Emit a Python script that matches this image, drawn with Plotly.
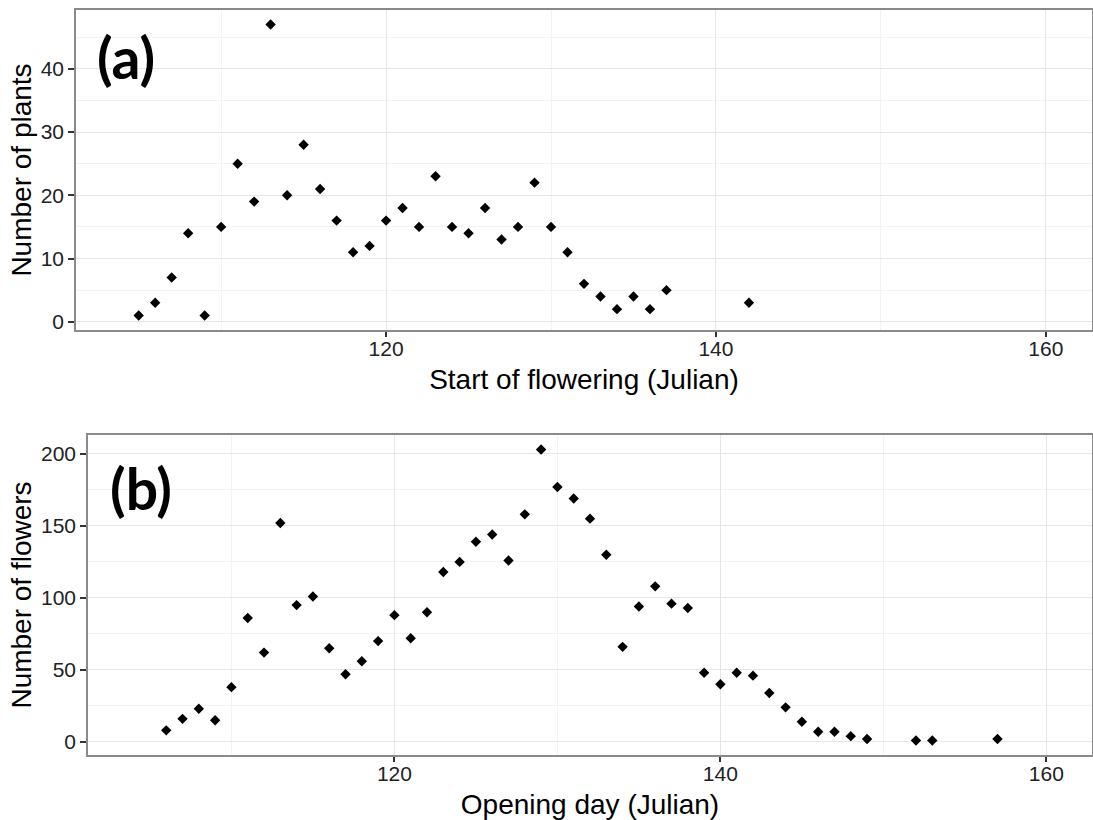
import plotly.graph_objects as go

# Panel (a): start of flowering
start_day = [105, 106, 107, 108, 109, 110, 111, 112, 113, 114, 115, 116, 117, 118,
             119, 120, 121, 122, 123, 124, 125, 126, 127, 128, 129, 130, 131, 132,
             133, 134, 135, 136, 137, 142]
n_plants = [1, 3, 7, 14, 1, 15, 25, 19, 47, 20, 28, 21, 16, 11,
            12, 16, 18, 15, 23, 15, 14, 18, 13, 15, 22, 15, 11, 6,
            4, 2, 4, 2, 5, 3]

# Panel (b): opening day
open_day = [106, 107, 108, 109, 110, 111, 112, 113, 114, 115, 116, 117, 118, 119,
            120, 121, 122, 123, 124, 125, 126, 127, 128, 129, 130, 131, 132, 133,
            134, 135, 136, 137, 138, 139, 140, 141, 142, 143, 144, 145, 146, 147,
            148, 149, 152, 153, 157]
n_flowers = [8, 16, 23, 15, 38, 86, 62, 152, 95, 101, 65, 47, 56, 70,
             88, 72, 90, 118, 125, 139, 144, 126, 158, 203, 177, 169, 155, 130,
             66, 94, 108, 96, 93, 48, 40, 48, 46, 34, 24, 14, 7, 7,
             4, 2, 1, 1, 2]

x_ticks = [120, 140, 160]
y_ticks_a = [0, 10, 20, 30, 40]
y_ticks_b = [0, 50, 100, 150, 200]

W, H = 1093, 820
FONT = "Liberation Sans, Arial, sans-serif"
TICK_FONT = dict(family=FONT, size=21, color="#222222")
TITLE_FONT = dict(family=FONT, size=28, color="#000000")
GRID = "#E6E6E6"
MINOR = "#F3F3F3"
FRAME = "#8A8A8A"

fig = go.Figure()
marker = dict(symbol="diamond", size=8, color="black", line=dict(width=0))
fig.add_trace(go.Scatter(x=start_day, y=n_plants, mode="markers", marker=marker,
                         xaxis="x", yaxis="y", showlegend=False))
fig.add_trace(go.Scatter(x=open_day, y=n_flowers, mode="markers", marker=marker,
                         xaxis="x2", yaxis="y2", showlegend=False))

def xpx(a, b):
    return [a / W, b / W]

def ypx(top, bottom):
    return [1 - bottom / H, 1 - top / H]

common_axis = dict(showline=True, linecolor=FRAME, linewidth=1.5, mirror=True,
                   ticks="outside", tickcolor="#333333", tickwidth=1.5,
                   showgrid=True, gridcolor=GRID, gridwidth=1.3, zeroline=False,
                   tickfont=TICK_FONT, automargin=False)

fig.update_layout(
    width=W, height=H,
    margin=dict(l=0, r=0, t=0, b=0),
    paper_bgcolor="white", plot_bgcolor="white",
    xaxis=dict(domain=xpx(76, 1092), range=[101.2, 162.8], anchor="y",
               tickvals=x_ticks, minor=dict(showgrid=True, gridcolor=MINOR, dtick=10, tick0=100, ticks=""),
               title=dict(text="Start of flowering (Julian)", font=TITLE_FONT, standoff=10),
               ticklen=5, ticklabelstandoff=-6, **common_axis),
    yaxis=dict(domain=ypx(10, 330), range=[-1.3, 49.3], anchor="x",
               tickvals=y_ticks_a, minor=dict(showgrid=True, gridcolor=MINOR, dtick=5, tick0=0, ticks=""),
               title=dict(text="Number of plants", font=TITLE_FONT, standoff=1),
               ticklen=6, ticklabelstandoff=0, **common_axis),
    xaxis2=dict(domain=xpx(88, 1092), range=[101.2, 162.8], anchor="y2",
                tickvals=x_ticks, minor=dict(showgrid=True, gridcolor=MINOR, dtick=10, tick0=100, ticks=""),
                title=dict(text="Opening day (Julian)", font=TITLE_FONT, standoff=10),
                ticklen=5, ticklabelstandoff=-6, **common_axis),
    yaxis2=dict(domain=ypx(435, 755), range=[-9.1, 213.1], anchor="x2",
                tickvals=y_ticks_b, minor=dict(showgrid=True, gridcolor=MINOR, dtick=25, tick0=0, ticks=""),
                title=dict(text="Number of flowers", font=TITLE_FONT, standoff=1),
                ticklen=6, ticklabelstandoff=0, **common_axis),
)

LABEL_FONT = dict(family="Lato, Open Sans, sans-serif", size=57, color="black", weight="bold")
fig.add_annotation(x=126 / W, y=1 - 57 / H, xref="paper", yref="paper", text="<b>(a)</b>",
                   showarrow=False, font=LABEL_FONT, xanchor="center", yanchor="middle")
fig.add_annotation(x=141 / W, y=1 - 488 / H, xref="paper", yref="paper", text="<b>(b)</b>",
                   showarrow=False, font=LABEL_FONT, xanchor="center", yanchor="middle")

fig.write_html("out.html", config={"displayModeBar": False},
               post_script="document.body.style.margin='0';document.body.style.overflow='hidden';")
